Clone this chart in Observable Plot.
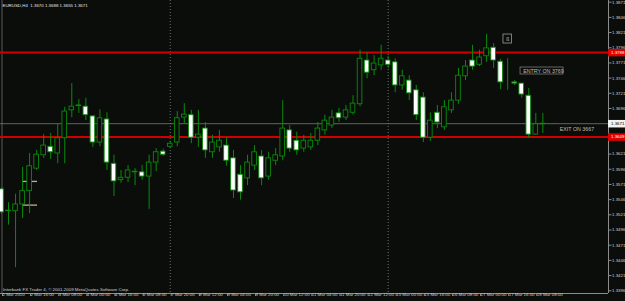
<!DOCTYPE html>
<html><head><meta charset="utf-8">
<script src="https://cdn.jsdelivr.net/npm/d3@7"></script>
<script src="https://cdn.jsdelivr.net/npm/@observablehq/plot@0.6"></script>
<style>
html,body{margin:0;padding:0;background:#0b0d0b;overflow:hidden;}
#chart svg{display:block;}
</style></head><body><div id="chart"></div>
<script>
// EURUSD H4 candles, 2 Mar 2010 00:00 .. 18 Mar 2010 12:00 (bar index 0..77)
const opens  = [1.3563,1.3527,1.3527,1.3538,1.3560,1.3597,1.3619,1.3633,1.3622,1.3647,
                1.3693,1.3701,1.3699,1.3683,1.3640,1.3678,1.3605,1.3578,1.3582,1.3592,
                1.3591,1.3584,1.3607,1.3625,1.3633,1.3640,1.3681,1.3685,1.3648,1.3663,
                1.3624,1.3632,1.3635,1.3614,1.3587,1.3581,1.3602,1.3617,1.3584,1.3610,
                1.3617,1.3660,1.3643,1.3630,1.3632,1.3643,1.3660,1.3668,1.3688,1.3681,
                1.3689,1.3703,1.3775,1.3759,1.3767,1.3775,1.3772,1.3734,1.3742,1.3726,
                1.3714,1.3648,1.3689,1.3665,1.3693,1.3709,1.3749,1.3775,1.3768,1.3782,
                1.3796,1.3773,1.3739,1.3739,1.3737,1.3717,1.3653,1.3670];
const highs  = [1.3566,1.3541,1.3555,1.3599,1.3622,1.3627,1.3653,1.3655,1.3670,1.3698,
                1.3737,1.3711,1.3713,1.3684,1.3694,1.3689,1.3619,1.3594,1.3602,1.3597,
                1.3602,1.3619,1.3630,1.3629,1.3642,1.3691,1.3704,1.3693,1.3693,1.3673,
                1.3652,1.3660,1.3647,1.3627,1.3602,1.3619,1.3635,1.3627,1.3624,1.3630,
                1.3709,1.3668,1.3657,1.3652,1.3655,1.3673,1.3685,1.3693,1.3696,1.3701,
                1.3717,1.3792,1.3788,1.3783,1.3800,1.3782,1.3778,1.3759,1.3750,1.3734,
                1.3722,1.3689,1.3701,1.3709,1.3722,1.3762,1.3775,1.3800,1.3792,1.3818,
                1.3803,1.3777,1.3778,1.3742,1.3737,1.3729,1.3688,1.3688];
const lows   = [1.3522,1.3504,1.3434,1.3515,1.3523,1.3594,1.3614,1.3612,1.3605,1.3605,
                1.3681,1.3688,1.3676,1.3632,1.3633,1.3594,1.3551,1.3573,1.3574,1.3569,
                1.3578,1.3530,1.3592,1.3617,1.3630,1.3633,1.3671,1.3638,1.3632,1.3614,
                1.3614,1.3624,1.3601,1.3548,1.3545,1.3569,1.3594,1.3569,1.3578,1.3602,
                1.3610,1.3624,1.3619,1.3624,1.3627,1.3635,1.3652,1.3663,1.3673,1.3676,
                1.3685,1.3699,1.3745,1.3750,1.3759,1.3762,1.3722,1.3726,1.3709,1.3676,
                1.3640,1.3642,1.3663,1.3660,1.3688,1.3703,1.3742,1.3759,1.3765,1.3772,
                1.3762,1.3727,1.3726,1.3734,1.3713,1.3647,1.3652,1.3655];
const closes = [1.3525,1.3528,1.3538,1.3560,1.3601,1.3620,1.3635,1.3624,1.3647,1.3691,
                1.3699,1.3700,1.3685,1.3640,1.3680,1.3607,1.3576,1.3582,1.3594,1.3591,
                1.3584,1.3607,1.3624,1.3620,1.3638,1.3680,1.3686,1.3648,1.3653,1.3627,
                1.3640,1.3643,1.3610,1.3561,1.3558,1.3607,1.3624,1.3581,1.3614,1.3619,
                1.3663,1.3630,1.3627,1.3643,1.3643,1.3663,1.3676,1.3681,1.3680,1.3693,
                1.3704,1.3778,1.3755,1.3770,1.3778,1.3768,1.3734,1.3749,1.3721,1.3685,
                1.3648,1.3676,1.3673,1.3698,1.3709,1.3750,1.3765,1.3765,1.3780,1.3795,
                1.3775,1.3739,1.3739,1.3737,1.3719,1.3653,1.3670,1.3671];

const xTickIndex  = [0,4,8,12,16,20,24,28,32,36,40,44,48,52,56,60,64,68,72,76];
const xTickLabels = ["2 Mar 2010","2 Mar 16:00","3 Mar 08:00","4 Mar 00:00","4 Mar 16:00",
                     "5 Mar 08:00","7 Mar 20:00","8 Mar 12:00","9 Mar 04:00","9 Mar 20:00",
                     "10 Mar 12:00","11 Mar 04:00","11 Mar 20:00","12 Mar 12:00","15 Mar 00:00",
                     "15 Mar 16:00","16 Mar 08:00","17 Mar 00:00","17 Mar 16:00","18 Mar 08:00"];
const yTicks = [1.3871,1.3846,1.3821,1.3796,1.3771,1.3746,1.3721,1.3696,
                1.3621,1.3596,1.3571,1.3546,1.3521,1.3496,1.3471,1.3446,1.3421,1.3396];
const separatorIndex = [24, 55];
const levelPrices = [1.3788, 1.3649];
const bidPrice = 1.3671;
const headerText = "EURUSD,H4  1.3670 1.3688 1.3655 1.3671";
const copyrightText = "Interbank FX Trader 4, © 2001-2009 MetaQuotes Software Corp.";
const notes = [
  {text: "ENTRY ON 3769", i: 74.0, p: 1.3758, box: [73.83, 79.94, 1.37635, 1.37520]},
  {text: "EXIT ON 3667",  i: 79.2, p: 1.3661}
];
const tanLines = [{p: 1.3576, i1: 2.99, i2: 5.12}, {p: 1.3537, i1: 3.1, i2: 5.12}];
const iconBox = {i1: 71.4, i2: 72.6, p1: 1.38178, p2: 1.38030, glyph: "ß"};

const xDomain = [-0.142, 86.34];
const yDomain = [1.33915, 1.38738];

const bars = opens.map((o, i) => ({i, o, h: highs[i], l: lows[i], c: closes[i], up: closes[i] >= o}));
const tickLabel = new Map(xTickIndex.map((d, k) => [d, xTickLabels[k]]));
const green = "#0b8a0b";
const fontFam = "'Liberation Sans', Arial, sans-serif";

const chart = Plot.plot({
  width: 625, height: 301,
  marginLeft: 0, marginRight: 17, marginTop: 0, marginBottom: 8,
  x: {type: "linear", domain: xDomain, axis: null},
  y: {type: "linear", domain: yDomain, axis: null},
  style: {background: "#0b0d0b", color: "#cfcfcf", fontFamily: fontFam, fontSize: "4.4px"},
  marks: [
    Plot.ruleX([xDomain[0]], {stroke: "#5a5a5a", dx: 1.5}),
    Plot.ruleX(separatorIndex, {stroke: "#8a8a8a", strokeDasharray: "1,2", strokeWidth: 0.8}),
    Plot.ruleY([bidPrice], {stroke: "#777777", strokeWidth: 0.8}),
    Plot.ruleY(levelPrices, {stroke: "#d00000", strokeWidth: 2}),
    Plot.ruleY(tanLines, {y: "p", x1: "i1", x2: "i2", stroke: "#c4ae92", strokeWidth: 1.3}),
    Plot.ruleX(bars, {x: "i", y1: "l", y2: "h", stroke: green, strokeWidth: 1}),
    Plot.rect(bars, {x1: d => d.i - 0.33, x2: d => d.i + 0.33, y1: "o", y2: "c",
      fill: d => d.up ? "#0b0d0b" : "#ffffff", stroke: green, strokeWidth: 0.9}),
    Plot.rect([notes[0]], {x1: d => d.box[0], x2: d => d.box[1], y1: d => d.box[2], y2: d => d.box[3],
      fill: "none", stroke: "#7a7a7a", strokeWidth: 0.8}),
    Plot.text(notes, {x: "i", y: "p", text: "text", textAnchor: "start", dx: 1.5,
      fill: "#bdbdbd", fontSize: 5.3}),
    Plot.rect([iconBox], {x1: "i1", x2: "i2", y1: "p1", y2: "p2", fill: "none", stroke: "#9a9a9a", strokeWidth: 0.8}),
    Plot.text([iconBox], {x: d => (d.i1 + d.i2) / 2, y: d => (d.p1 + d.p2) / 2, text: "glyph", fill: "#bdbdbd", fontSize: 5}),
    Plot.ruleX([xDomain[1]], {stroke: "#8c8c8c"}),
    Plot.ruleY([yDomain[0]], {stroke: "#8c8c8c"}),
    Plot.axisY(yTicks, {anchor: "right", tickSize: 2.5, tickPadding: 1, tickFormat: d => d.toFixed(4),
      fontSize: 4.4, fill: "#cfcfcf", stroke: "#8c8c8c"}),
    Plot.axisX(xTickIndex, {anchor: "bottom", tickSize: 3, tickPadding: -3.6, textAnchor: "start", dx: 1,
      tickFormat: d => tickLabel.get(d), fontSize: 4.4, fill: "#cfcfcf", stroke: "#8c8c8c"}),
    Plot.ruleY(levelPrices, {x1: xDomain[1], x2: xDomain[1] + 2.45, stroke: "#e00000", strokeWidth: 7.5}),
    Plot.text(levelPrices, {x: xDomain[1], y: d => d, text: d => d.toFixed(4), textAnchor: "start", dx: 2.5,
      fill: "#ffffff", fontSize: 4.4}),
    Plot.ruleY([bidPrice], {x1: xDomain[1], x2: xDomain[1] + 2.45, stroke: "#f2f2f2", strokeWidth: 7.5}),
    Plot.text([bidPrice], {x: xDomain[1], y: d => d, text: d => d.toFixed(4), textAnchor: "start", dx: 2.5,
      fill: "#000000", fontSize: 4.4}),
    Plot.text([headerText], {frameAnchor: "top-left", dx: 2, dy: 3, fill: "#e6e6e6", fontSize: 4.4}),
    Plot.text([copyrightText], {frameAnchor: "bottom-left", dx: 2.5, dy: -3, fill: "#cfcfcf", fontSize: 4.4})
  ]
});
document.getElementById("chart").appendChild(chart);
</script>
</body></html>
